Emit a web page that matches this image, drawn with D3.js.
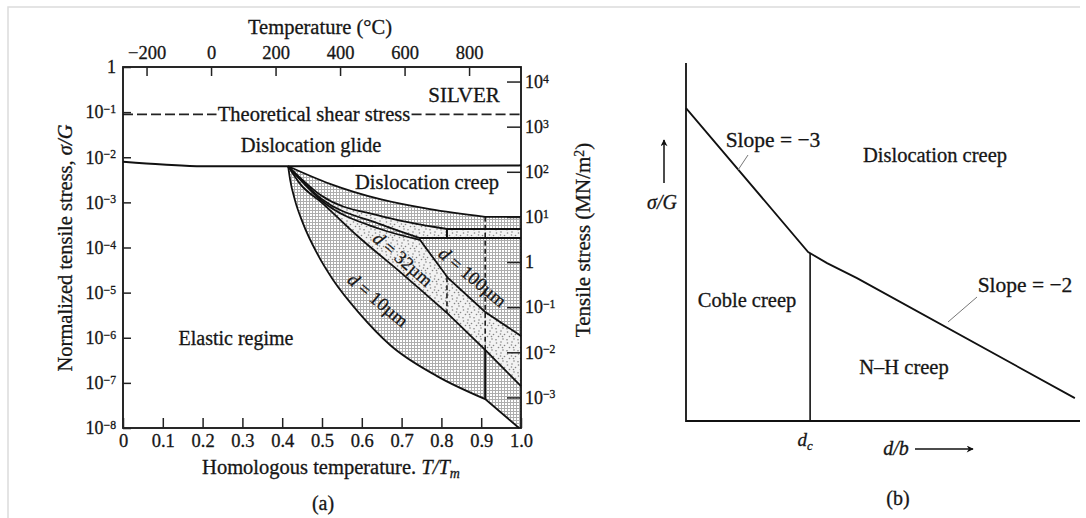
<!DOCTYPE html>
<html>
<head>
<meta charset="utf-8">
<script src="https://cdn.jsdelivr.net/npm/d3@7"></script>
<style>
  html, body { margin: 0; padding: 0; background: #fff; }
  svg { display: block; }
  text { font-family: "Liberation Serif", "Times New Roman", serif; fill: #161616;
         stroke: #161616; stroke-width: 0.3px; }
</style>
</head>
<body>
<svg id="fig" width="1086" height="518"></svg>
<script>
// ---------- Panel (a): deformation-mechanism map for silver ----------
// All boundaries are given as [T/Tm, log10(sigma/G)].
const homologousTicks = [0, 0.1, 0.2, 0.3, 0.4, 0.5, 0.6, 0.7, 0.8, 0.9, 1.0];
const celsiusTicks = [-200, 0, 200, 400, 600, 800];
const normStressExps = [0, -1, -2, -3, -4, -5, -6, -7, -8];
const tensileStressExps = [4, 3, 2, 1, 0, -1, -2, -3];
const meltingPointK = 1234;          // silver
const shearModulusMN = 2.1e4;        // MN/m^2

const theoreticalShearLog = -1.05;
const glideBoundary = [[0, -2.1], [0.1, -2.16], [0.2, -2.2], [0.415, -2.2], [1.0, -2.18]];

// upper (power-law / diffusional) and lower (elastic) boundaries per grain size
const d10Upper  = [[0.415, -2.2], [0.52, -2.59], [0.646, -2.93], [0.771, -3.15], [0.91, -3.32], [1.0, -3.32]];
const d10Lower  = [[0.415, -2.2], [0.42, -2.5], [0.432, -2.95], [0.452, -3.46], [0.49, -4.17], [0.528, -4.72],
                   [0.595, -5.47], [0.671, -6.16], [0.789, -6.85], [0.91, -7.36], [0.995, -8.0]];
const d32Upper  = [[0.415, -2.2], [0.5, -2.86], [0.646, -3.3], [0.814, -3.59], [1.0, -3.59]];
const d32Lower  = [[0.415, -2.2], [0.445, -2.59], [0.5, -3.01], [0.595, -3.79], [0.696, -4.54],
                   [0.814, -5.45], [0.91, -6.27], [1.0, -7.07]];
const d100Upper = [[0.415, -2.2], [0.5, -2.93], [0.646, -3.48], [0.746, -3.79], [1.0, -3.79]];
const d100Lower = [[0.415, -2.2], [0.5, -2.97], [0.646, -3.59], [0.746, -3.83], [0.817, -4.68],
                   [0.91, -5.43], [1.0, -5.96]];
const cobleNHTransition = { d10: 0.91, d32: 0.814, d100: 0.746 };

// Coble / Nabarro-Herring dividing lines: [T/Tm, from, to, dashed]
const cobleNHDividers = [
  [0.91, -3.32, -6.27, true],
  [0.91, -6.27, -7.36, false],
  [0.814, -3.59, -3.79, false],
  [0.814, -4.66, -5.45, true]
];

const fieldLabels = [
  { d: "10µm",  t: 0.641, s: -5.16, angle: 40 },
  { d: "32µm",  t: 0.7035, s: -4.255, angle: 41 },
  { d: "100µm", t: 0.879, s: -4.65, angle: 40 }
];

// ---------- Panel (b): schematic grain-size map ----------
const schematicBoundary = [[0, 8.74], [3.1, 4.72], [3.58, 4.41], [4.34, 3.99], [9.87, 0.64]];
const criticalGrainSize = 3.15;
const criticalTop = 4.69;

// ================= drawing =================
const svg = d3.select("#fig");
const defs = svg.append("defs");

// light frame around the figure
svg.append("path").attr("d", "M8,518 L8,7 L1080,7")
  .attr("fill", "none").attr("stroke", "#dcdcdc").attr("stroke-width", 1.5);

// fill textures
const mesh = defs.append("pattern").attr("id", "mesh")
  .attr("width", 3).attr("height", 3).attr("patternUnits", "userSpaceOnUse");
mesh.append("rect").attr("width", 3).attr("height", 3).attr("fill", "#fff");
mesh.append("rect").attr("width", 3).attr("height", 1).attr("fill", "#adadad");
mesh.append("rect").attr("width", 1).attr("height", 3).attr("fill", "#adadad");

const stipple = defs.append("pattern").attr("id", "stipple")
  .attr("width", 11).attr("height", 11).attr("patternUnits", "userSpaceOnUse");
stipple.append("rect").attr("width", 11).attr("height", 11).attr("fill", "#f2f2f2");
[[1.5, 2], [6, 1], [9.5, 4.5], [3.5, 6.5], [8, 9], [1, 9.8], [5.5, 4], [7.5, 6.5]].forEach(([cx, cy]) =>
  stipple.append("circle").attr("cx", cx).attr("cy", cy).attr("r", 0.8).attr("fill", "#858585"));

const xA = d3.scaleLinear().domain([0, 1]).range([123, 521]);
const yA = d3.scaleLinear().domain([-8, 0]).range([428, 67]);
const xTemp = d3.scaleLinear().domain([-273, meltingPointK - 273]).range([xA(0), xA(1)]);
const logG = Math.log10(shearModulusMN);

const gA = svg.append("g");

function boundaryPath(pts, kinkT) {
  const curved = pts.filter(p => p[0] <= kinkT + 1e-9);
  const straight = pts.filter(p => p[0] >= kinkT - 1e-9);
  let s = d3.line().x(p => xA(p[0])).y(p => yA(p[1])).curve(d3.curveMonotoneX)(curved);
  straight.slice(1).forEach(p => { s += `L${xA(p[0])},${yA(p[1])}`; });
  return s;
}
function regionBelow(pts, kinkT) {
  const first = pts[0], last = pts[pts.length - 1];
  return boundaryPath(pts, kinkT) + `L${xA(last[0])},${yA(-8)}L${xA(first[0])},${yA(-8)}Z`;
}
function regionAbove(pts, kinkT) {
  const first = pts[0];
  return boundaryPath(pts, kinkT) + `L${xA(1)},${yA(-8)}L${xA(1)},${yA(0)}L${xA(first[0])},${yA(0)}Z`;
}

const fields = [
  ["d10", d10Upper, d10Lower, cobleNHTransition.d10, "url(#mesh)"],
  ["d32", d32Upper, d32Lower, cobleNHTransition.d32, "url(#stipple)"],
  ["d100", d100Upper, d100Lower, cobleNHTransition.d100, "url(#mesh)"]
];
fields.forEach(([id, up, low, k, fill]) => {
  defs.append("clipPath").attr("id", "clip-" + id)
    .append("path").attr("d", regionAbove(low, k));
  gA.append("g").attr("clip-path", `url(#clip-${id})`)
    .append("path").attr("d", regionBelow(up, k)).attr("fill", fill);
});

// boundaries
const lineA = d3.line().x(p => xA(p[0])).y(p => yA(p[1]));
gA.append("path").attr("d", lineA.curve(d3.curveMonotoneX)(glideBoundary))
  .attr("fill", "none").attr("stroke", "#111").attr("stroke-width", 2);
fields.forEach(([id, up, low, k]) => {
  [up, low].forEach(pts => gA.append("path").attr("d", boundaryPath(pts, k))
    .attr("fill", "none").attr("stroke", "#111").attr("stroke-width", 1.8));
});
cobleNHDividers.forEach(([t, a, b, dashed]) => {
  gA.append("line").attr("x1", xA(t)).attr("x2", xA(t)).attr("y1", yA(a)).attr("y2", yA(b))
    .attr("stroke", "#111").attr("stroke-width", dashed ? 1.5 : 2)
    .attr("stroke-dasharray", dashed ? "5,3" : null);
});

// theoretical shear stress
[[0, 0.235], [0.725, 1.0]].forEach(([a, b]) => {
  gA.append("line").attr("x1", xA(a)).attr("x2", xA(b))
    .attr("y1", yA(theoreticalShearLog)).attr("y2", yA(theoreticalShearLog))
    .attr("stroke", "#222").attr("stroke-width", 1.6).attr("stroke-dasharray", "10,4");
});
gA.append("text").attr("x", xA(0.48)).attr("y", yA(theoreticalShearLog) + 6.5)
  .attr("text-anchor", "middle").attr("font-size", 20.5).text("Theoretical shear stress");

// frame
gA.append("rect").attr("x", xA(0)).attr("y", yA(0)).attr("width", xA(1) - xA(0)).attr("height", yA(-8) - yA(0))
  .attr("fill", "none").attr("stroke", "#111").attr("stroke-width", 1.8);

// axes
function styleAxis(g) {
  g.select(".domain").remove();
  g.selectAll(".tick line").attr("stroke", "#222").attr("stroke-width", 1.5);
  g.selectAll(".tick text").attr("font-family", "Liberation Serif, serif").attr("fill", "#222");
}
gA.append("g").attr("transform", `translate(0,${yA(-8)})`)
  .call(d3.axisBottom(xA).tickValues(homologousTicks).tickSize(-10).tickPadding(6)
    .tickFormat(d => d === 0 ? "0" : d.toFixed(1)))
  .call(styleAxis).selectAll("text").attr("font-size", 18.5);

gA.append("g").attr("transform", `translate(0,${yA(0)})`)
  .call(d3.axisTop(xTemp).tickValues(celsiusTicks).tickSize(-9).tickPadding(8)
    .tickFormat(d => d < 0 ? "\u2212" + Math.abs(d) : String(d)))
  .call(styleAxis).selectAll("text").attr("font-size", 18.5);

function powerLabel(sel, exp) {
  sel.text(null);
  if (exp === 0) { sel.text("1"); return; }
  sel.append("tspan").text("10");
  sel.append("tspan").attr("dy", "-0.45em").attr("font-size", "0.65em")
    .text(exp < 0 ? "\u2212" + Math.abs(exp) : String(exp));
}
const leftAx = gA.append("g").attr("transform", `translate(${xA(0)},0)`)
  .call(d3.axisLeft(yA).tickValues(normStressExps).tickSize(-8).tickPadding(7))
  .call(styleAxis);
leftAx.selectAll(".tick text").attr("font-size", 18).each(function(d) { powerLabel(d3.select(this), d); });

const rightAx = gA.append("g").attr("transform", `translate(${xA(1)},0)`)
  .call(d3.axisRight(d3.scaleLinear().domain([-8 + logG, logG]).range([428, 67]))
    .tickValues(tensileStressExps).tickSize(-14).tickPadding(4))
  .call(styleAxis);
rightAx.selectAll(".tick text").attr("font-size", 18).each(function(d) { powerLabel(d3.select(this), d); });

// axis titles
svg.append("text").attr("x", 320).attr("y", 34).attr("text-anchor", "middle").attr("font-size", 20.5)
  .text("Temperature (\u00B0C)");
const bt = svg.append("text").attr("x", 331).attr("y", 474).attr("text-anchor", "middle").attr("font-size", 20.5);
bt.append("tspan").text("Homologous temperature. ");
bt.append("tspan").attr("font-style", "italic").text("T/T");
bt.append("tspan").attr("font-style", "italic").attr("font-size", "0.68em").attr("dy", "0.3em").text("m");
svg.append("text").attr("x", 323).attr("y", 510).attr("text-anchor", "middle").attr("font-size", 20).text("(a)");

const lt = svg.append("text").attr("transform", "translate(72,248) rotate(-90)")
  .attr("text-anchor", "middle").attr("font-size", 20.5);
lt.append("tspan").text("Normalized tensile stress, ");
lt.append("tspan").attr("font-style", "italic").text("\u03C3/G");

const rt = svg.append("text").attr("transform", "translate(590,240) rotate(-90)")
  .attr("text-anchor", "middle").attr("font-size", 21);
rt.append("tspan").text("Tensile stress (MN/m");
rt.append("tspan").attr("font-size", "0.65em").attr("dy", "-0.45em").text("2");
rt.append("tspan").attr("dy", "0.3em").text(")");

// region labels
svg.append("text").attr("x", 464).attr("y", 102).attr("text-anchor", "middle").attr("font-size", 21).text("SILVER");
svg.append("text").attr("x", 311).attr("y", 152).attr("text-anchor", "middle").attr("font-size", 20.5).text("Dislocation glide");
svg.append("text").attr("x", 427).attr("y", 189).attr("text-anchor", "middle").attr("font-size", 20.5).text("Dislocation creep");
svg.append("text").attr("x", 236).attr("y", 345).attr("text-anchor", "middle").attr("font-size", 20).text("Elastic regime");

fieldLabels.forEach(f => {
  const t = svg.append("text")
    .attr("transform", `translate(${xA(f.t)},${yA(f.s)}) rotate(${f.angle})`)
    .attr("text-anchor", "middle").attr("dy", "0.35em").attr("font-size", 18.5);
  t.append("tspan").attr("font-style", "italic").text("d");
  t.append("tspan").text(" = " + f.d);
});

// ---------------- panel (b) ----------------
const xB = d3.scaleLinear().domain([0, 10]).range([686, 1080]);
const yB = d3.scaleLinear().domain([0, 10]).range([421, 63]);
const gB = svg.append("g");

gB.append("path").attr("d", `M${xB(0)},${yB(10)}L${xB(0)},${yB(0)}L${xB(10)},${yB(0)}`)
  .attr("fill", "none").attr("stroke", "#111").attr("stroke-width", 1.8);
gB.append("path").attr("d", d3.line().x(p => xB(p[0])).y(p => yB(p[1]))(schematicBoundary))
  .attr("fill", "none").attr("stroke", "#111").attr("stroke-width", 1.8);
gB.append("line").attr("x1", xB(criticalGrainSize)).attr("x2", xB(criticalGrainSize))
  .attr("y1", yB(0)).attr("y2", yB(criticalTop)).attr("stroke", "#111").attr("stroke-width", 1.6);

// slope leaders
gB.append("line").attr("x1", 748).attr("y1", 155).attr("x2", 738).attr("y2", 170)
  .attr("stroke", "#777").attr("stroke-width", 1);
gB.append("line").attr("x1", 977).attr("y1", 297).attr("x2", 948).attr("y2", 322)
  .attr("stroke", "#777").attr("stroke-width", 1);

gB.append("text").attr("x", 773).attr("y", 147).attr("text-anchor", "middle").attr("font-size", 21.5).text("Slope = \u22123");
gB.append("text").attr("x", 935).attr("y", 162).attr("text-anchor", "middle").attr("font-size", 20.5).text("Dislocation creep");
gB.append("text").attr("x", 747).attr("y", 307).attr("text-anchor", "middle").attr("font-size", 20.5).text("Coble creep");
gB.append("text").attr("x", 1025).attr("y", 292).attr("text-anchor", "middle").attr("font-size", 21.5).text("Slope = \u22122");
gB.append("text").attr("x", 904).attr("y", 374).attr("text-anchor", "middle").attr("font-size", 20.5).text("N\u2013H creep");
gB.append("text").attr("x", 662).attr("y", 209).attr("text-anchor", "middle").attr("font-size", 20)
  .attr("font-style", "italic").text("\u03C3/G");

// arrows
defs.append("marker").attr("id", "arrow").attr("viewBox", "0 0 10 10").attr("refX", 9).attr("refY", 5)
  .attr("markerWidth", 10).attr("markerHeight", 7).attr("markerUnits", "userSpaceOnUse").attr("orient", "auto")
  .append("path").attr("d", "M0,0 L10,5 L0,10 L3,5 Z").attr("fill", "#111");
gB.append("line").attr("x1", 664).attr("y1", 183).attr("x2", 664).attr("y2", 140)
  .attr("stroke", "#111").attr("stroke-width", 1.5).attr("marker-end", "url(#arrow)");
gB.append("line").attr("x1", 915).attr("y1", 449).attr("x2", 973).attr("y2", 449)
  .attr("stroke", "#111").attr("stroke-width", 1.5).attr("marker-end", "url(#arrow)");

const dc = gB.append("text").attr("x", 805).attr("y", 446).attr("text-anchor", "middle").attr("font-size", 19)
  .attr("font-style", "italic");
dc.append("tspan").text("d");
dc.append("tspan").attr("font-size", "0.68em").attr("dy", "0.3em").text("c");
gB.append("text").attr("x", 896).attr("y", 455).attr("text-anchor", "middle").attr("font-size", 20)
  .attr("font-style", "italic").text("d/b");
gB.append("text").attr("x", 898).attr("y", 505).attr("text-anchor", "middle").attr("font-size", 20).text("(b)");
</script>
</body>
</html>
